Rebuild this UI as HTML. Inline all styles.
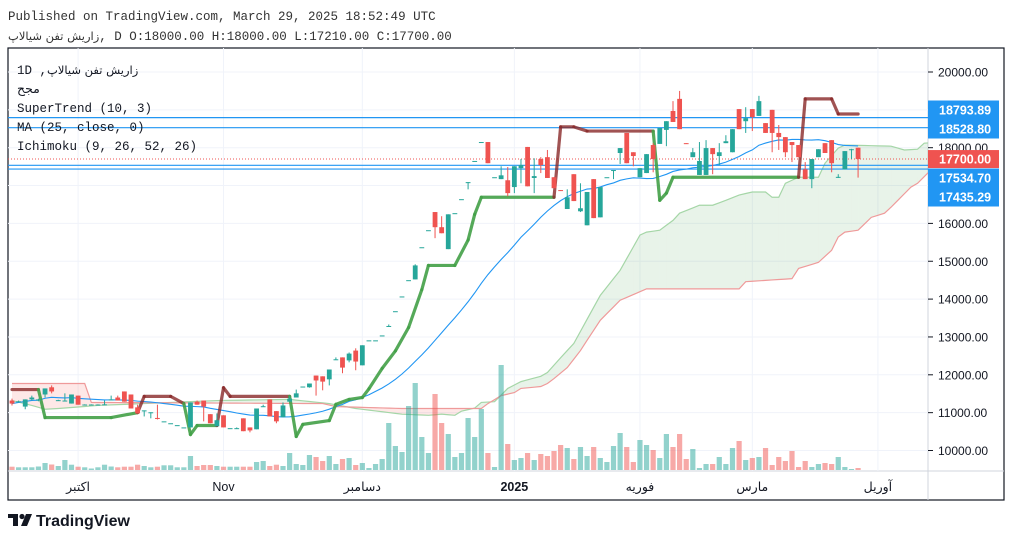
<!DOCTYPE html>
<html><head><meta charset="utf-8"><style>
html,body{margin:0;padding:0;background:#fff;}
body{width:1012px;height:541px;overflow:hidden;position:relative;font-family:"Liberation Sans","Noto Sans CJK SC",sans-serif;}
svg{position:absolute;left:0;top:0;}
.mono{font-family:"Liberation Mono","DejaVu Sans Mono",monospace;}
</style></head><body>
<svg id="chart" width="1012" height="541" viewBox="0 0 1012 541" xmlns="http://www.w3.org/2000/svg">
<defs><clipPath id="plotClip"><rect x="8" y="49" width="920" height="421"/></clipPath></defs>
<text x="8" y="20" class="mono" font-size="12.5" fill="#333">Published on TradingView.com, March 29, 2025 18:52:49 UTC</text>
<text x="8" y="40" class="mono" font-size="12.5" fill="#333"><tspan font-family="'DejaVu Sans',sans-serif" font-size="11.5">زاریش تفن شیالاپ</tspan>, D O:18000.00 H:18000.00 L:17210.00 C:17700.00</text>
<rect x="8" y="48" width="996" height="452" fill="none" stroke="#131722" stroke-width="1.2"/>
<line x1="928" y1="48" x2="928" y2="500" stroke="#d1d4dc"/>
<line x1="8" y1="471" x2="1004" y2="471" stroke="#d1d4dc"/>
<g id="grid"></g>
<g id="cloud" clip-path="url(#plotClip)"></g>
<g id="vol"></g>
<g id="hlines"></g>
<g id="ma" clip-path="url(#plotClip)"></g>
<g id="st" clip-path="url(#plotClip)"></g>
<g id="candles"></g>
<g id="yaxis"></g>
<g id="xaxis"></g>
<g class="mono" font-size="12.5" fill="#131722">
<text x="17" y="74">1D ,<tspan font-family="'DejaVu Sans',sans-serif" font-size="11.5">زاریش تفن شیالاپ</tspan></text>
<text x="17" y="93" font-family="'DejaVu Sans',sans-serif">مجح</text>
<text x="17" y="112">SuperTrend (10, 3)</text>
<text x="17" y="131">MA (25, close, 0)</text>
<text x="17" y="150">Ichimoku (9, 26, 52, 26)</text>
</g>
<g>
<rect x="8" y="514" width="10" height="4" fill="#131722"/>
<rect x="13" y="514" width="5" height="12" fill="#131722"/>
<circle cx="22" cy="516.5" r="2.6" fill="#131722"/>
<polygon points="26,514 32,514 27,526 21,526" fill="#131722"/>
<text x="36" y="526" font-size="16" font-weight="bold" fill="#131722">TradingView</text>
</g>
</svg>
<script>
const opens=[11320,11290,11160,11350,11320,11480,11670,11320,11310,11240,11450,11210,11210,11210,11210,11330,11400,11560,11480,11140,11050,11000,10860,10770,10720,10670,10610,10610,11290,11320,10960,10640,10930,10590,10580,10850,10610,10560,11160,11350,11040,10880,11290,11400,11690,11670,11980,11960,11880,12400,12460,12380,12640,12250,12910,12910,13040,13280,13680,14070,14500,14520,15370,15820,16300,15900,15320,16270,16640,17080,17650,18150,18150,17220,17170,17140,16960,17460,18020,17200,17700,17750,17220,16880,16380,17300,16320,15950,17170,16160,17220,17400,17860,18390,17880,17220,17330,18070,18100,18470,18970,19290,18120,17750,17280,17280,17990,17780,18120,17880,19020,18700,19020,18840,18650,19000,18390,18280,18150,18070,17430,17170,17750,18120,18200,17220,17430,17940,18000];
const highs=[11370,11320,11350,11450,11370,11640,11720,11340,11510,11480,11450,11220,11220,11220,11320,11450,11450,11560,11480,11210,11060,11010,11210,10770,10720,10670,10610,11270,11320,11320,10960,10980,10930,10590,10610,10850,10610,11110,11210,11350,11040,11270,11430,11610,11690,11770,11980,11960,12140,12460,12460,12590,12700,12780,12910,12910,13040,13330,13680,14070,14500,14920,15370,15820,16300,16190,16240,16270,16640,17090,17650,18150,18150,17220,17510,17490,17510,17700,18020,17720,17750,17940,17220,16880,16900,17300,17060,16830,17170,16960,17220,17410,17990,18390,17880,17460,17830,18120,18520,18700,19230,19500,18120,17990,18150,18200,17990,18120,18330,18490,19020,19070,19020,19370,18650,19000,18600,18280,18150,18070,17620,17700,17960,18120,18200,17300,17910,17970,18000];
const lows=[11190,11270,11090,11320,11300,11400,11510,11310,11310,11240,11210,11200,11200,11200,11210,11330,11320,11290,11110,10980,10900,10850,10820,10770,10720,10670,10610,10610,11210,10770,10720,10640,10610,10590,10580,10510,10480,10560,11160,10900,10720,10880,11290,11400,11690,11660,11450,11590,11720,12400,12040,12330,12120,12250,12910,12910,13040,13280,13680,14070,14500,14520,15370,15820,15610,15740,15320,16270,16640,16900,17650,18150,17590,17220,17170,16720,16800,17060,16980,16800,17330,17200,16930,16860,16380,16590,16300,15950,16140,16160,17220,17170,17570,17590,17510,17220,17330,17350,18100,18040,18680,18490,18100,17750,17280,17280,17300,17540,18120,17880,18490,18390,18440,18840,18390,17880,17940,17750,17620,17750,17170,16930,17750,17860,17350,17200,17430,17700,17210];
const closes=[11240,11300,11350,11400,11350,11640,11560,11330,11320,11480,11210,11215,11215,11215,11220,11350,11320,11290,11110,10980,11060,11010,10850,10770,10720,10670,10610,11270,11210,11160,10720,10800,10610,10590,10590,10510,10530,11110,11170,10900,10770,11190,11370,11510,11690,11770,11850,11820,12140,12410,12190,12560,12350,12780,12910,12910,13040,13290,13680,14070,14500,14890,15370,15820,15900,15740,16240,16270,16640,17090,17650,18150,17590,17220,17270,16800,17510,17540,16980,17250,17540,17200,16930,16870,16690,16590,16400,16830,16140,16960,17220,17410,17990,17590,17780,17460,17830,17700,18520,18700,18680,18490,18100,17880,17650,17990,17830,17880,18170,18490,18490,18780,18810,19230,18390,18390,18280,17880,18070,17750,17170,17700,17960,17860,17590,17230,17910,17960,17700];
const volumes=[3.3,2.7,2.7,2.7,3.5,7,5.5,4,10,5.3,3.3,2.7,1.5,2.7,5.3,3.5,2.7,3.3,3.3,5.3,4,2.7,3.3,4.7,4.7,2.7,2.7,14,4,5,5,4,3.3,3.3,3.3,3.3,3.3,8,9,4,5.3,4,17,6,5,15,13,9,14,6,11,12,5,7,2,6,11,47,24,18,64,87,33,17,76,47,36,13,17,52,33,61,17,3,105,26,10,12,17,10,16,14,19,25,22,11,23,14,23,12,8,24,37,23,8,30,25,20,12,36,23,36,11,21,2,6,6,13,6,22,29,10,12,13,22,5,13,9,19,3,9,3,6,7,6,13,3,1,2];
// SuperTrend breakpoints
const stIdx=[0,4,5,15,19,20,24,26,27,28,31,32,33,42,43,44,48,49,51,53,54,56,58,60,62,63,67,69,70,71,82,83,85,87,97,98,99,100,119,120,124,125,128];
const stVal=[11610,11610,10870,10870,11000,11430,11430,11240,10420,10660,10660,11660,11430,11430,10370,10690,10790,11220,11350,11400,11630,12170,12630,13250,14250,14890,14890,15560,16240,16690,16690,18550,18550,18440,18440,16610,16800,17220,17220,19290,19290,18890,18890];
const stDir=[-1,-1,1,1,1,-1,-1,-1,1,1,1,-1,-1,-1,1,1,1,1,1,1,1,1,1,1,1,1,1,1,1,1,1,-1,-1,-1,-1,1,1,1,1,-1,-1,-1,-1];
// Ichimoku leading spans (breakpoints)
const spanAIdx=[0,3,5,7,13,31,42,48,52,59,63,65,67,68,70,71,73,75,77,80,81,83,85,89,92,95,96,98,100,101,104,106,108,110,112,114,115,116,117,119,122,123,125,126,133,135,137,138,141];
const spanAVal=[11320,11190,11090,11110,11190,11320,11350,11240,11110,10960,10930,10960,10930,11040,11120,11270,11290,11640,11820,11960,12060,12450,12830,14100,14760,15690,15770,15820,16080,16270,16480,16480,16610,16750,16830,16830,16690,16690,17060,17220,17220,17590,17990,18070,18040,17940,17960,18120,18150];
const spanBIdx=[0,11,12,47,49,59,71,72,74,76,77,80,81,82,84,86,87,89,92,96,110,111,118,119,122,124,125,126,128,130,132,133,136,137,139,141];
const spanBVal=[11770,11770,11270,11240,11160,11110,11110,11240,11450,11530,11640,11690,11770,11900,12190,12640,12910,13440,13970,14270,14270,14460,14540,14810,14970,15290,15640,15770,15820,16160,16270,16430,16960,17060,17410,17600];
const levels=[18793.89,18528.80,17534.70,17435.29];
const levelLabelY=[110,129,178,197];
const lastPrice=17700;
const yTicks=[20000,18000,16000,15000,14000,13000,12000,11000,10000];
const gridPrices=[20000,19000,18000,17000,16000,15000,14000,13000,12000,11000,10000];
const timeLabels=["اکتبر","Nov","دسامبر","2025","فوریه","مارس","آوریل"];
const timeIdx=[10,32,53,76,95,112,131];

const NS="http://www.w3.org/2000/svg";
const X0=12,DX=6.61;
function xOf(i){return X0+i*DX;}
function yOf(p){return 72+(20000-p)*0.03785;}
function vy(v){return 470-v;}
function mk(tag,attrs,parent){const e=document.createElementNS(NS,tag);for(const k in attrs)e.setAttribute(k,attrs[k]);parent.appendChild(e);return e;}
function interp(idx,val,i){if(i<=idx[0])return val[0];for(let k=1;k<idx.length;k++){if(i<=idx[k]){const t=(i-idx[k-1])/(idx[k]-idx[k-1]);return val[k-1]+t*(val[k]-val[k-1]);}}return val[val.length-1];}
const UP="#26a69a",DN="#ef5350";

// grid
const grid=document.getElementById('grid');
gridPrices.forEach(p=>{const l=mk('line',{x1:8,x2:928,y1:yOf(p),y2:yOf(p),stroke:'#f0f3fa'},grid);

});
timeIdx.forEach(i=>{const l=mk('line',{x1:xOf(i),x2:xOf(i),y1:48,y2:471,stroke:'#f0f3fa'},grid);

});

// cloud
const cloud=document.getElementById('cloud');
const cA=[],cB=[];
for(let i=0;i<=141;i++){cA.push(interp(spanAIdx,spanAVal,i));cB.push(interp(spanBIdx,spanBVal,i));}
for(let i=0;i<141;i++){
 const a0=cA[i],a1=cA[i+1],b0=cB[i],b1=cB[i+1];
 const col=(a0+a1)>=(b0+b1)?'rgba(67,160,71,0.12)':'rgba(244,67,54,0.12)';
 const q=mk('polygon',{points:`${xOf(i)},${yOf(a0)} ${xOf(i+1)},${yOf(a1)} ${xOf(i+1)},${yOf(b1)} ${xOf(i)},${yOf(b0)}`,fill:col},cloud);
 
 
}
const pa=mk('polyline',{points:cA.map((v,i)=>xOf(i)+','+yOf(v)).join(' '),fill:'none',stroke:'#a5d6a7','stroke-width':1.2},cloud);


const pb=mk('polyline',{points:cB.map((v,i)=>xOf(i)+','+yOf(v)).join(' '),fill:'none',stroke:'#ef9a9a','stroke-width':1.2},cloud);



// volume
const vol=document.getElementById('vol');
volumes.forEach((v,i)=>{const up=closes[i]>=opens[i];
 const r=mk('rect',{x:xOf(i)-2.6,y:vy(v),width:5.2,height:v,fill:up?'rgba(38,166,154,0.5)':'rgba(239,83,80,0.5)'},vol);
 
 });

// horizontal levels
const hl=document.getElementById('hlines');
levels.forEach(p=>{const l=mk('line',{x1:8,x2:935,y1:yOf(p),y2:yOf(p),stroke:'#2196f3','stroke-width':1.2},hl);

});
const pl=mk('line',{x1:8,x2:928,y1:yOf(lastPrice),y2:yOf(lastPrice),stroke:'#ef5350','stroke-width':1,'stroke-dasharray':'1,2'},hl);



// MA 25
const maG=document.getElementById('ma');
const maPts=[];
for(let i=0;i<closes.length;i++){let s=0,n=0;for(let k=Math.max(0,i-24);k<=i;k++){s+=closes[k];n++;}maPts.push(xOf(i)+','+yOf(s/n));}
const maL=mk('polyline',{points:maPts.join(' '),fill:'none',stroke:'#2196f3','stroke-width':1.1},maG);



// SuperTrend
const stG=document.getElementById('st');
for(let k=1;k<stIdx.length;k++){
 const col=stDir[k]>0?'rgba(67,160,71,0.9)':'rgba(136,40,40,0.8)';
 const s=mk('line',{x1:xOf(stIdx[k-1]),y1:yOf(stVal[k-1]),x2:xOf(stIdx[k]),y2:yOf(stVal[k]),stroke:col,'stroke-width':3.2,'stroke-linecap':'round'},stG);
 
 
}

// candles
const cg=document.getElementById('candles');
opens.forEach((o,i)=>{const c=closes[i],up=c>=o,col=up?UP:DN,x=xOf(i);
 const g=mk('g',{},cg);
 
 
 mk('line',{x1:x,x2:x,y1:yOf(highs[i]),y2:yOf(lows[i]),stroke:col,'stroke-width':1},g);
 const t=yOf(Math.max(o,c)),b=yOf(Math.min(o,c));
 mk('rect',{x:x-2.4,y:t,width:4.8,height:Math.max(1,b-t),fill:col},g);
});

// y axis
const ya=document.getElementById('yaxis');
yTicks.forEach(p=>{const y=yOf(p);
 mk('line',{x1:928,x2:933,y1:y,y2:y,stroke:'#131722'},ya);
 const t=mk('text',{x:938,y:y+4.5,'font-size':12,fill:'#131722'},ya);t.textContent=p.toFixed(2);
 
 });
levels.forEach((p,k)=>{const y=levelLabelY[k];
 const r=mk('rect',{x:928,y:y-9.5,width:71,height:19,fill:'#2196f3'},ya);
 
 
 const t=mk('text',{x:939,y:y+4.5,'font-size':12.5,'font-weight':'bold',fill:'#fff'},ya);t.textContent=p.toFixed(2);
 
 });
(function(){const y=yOf(lastPrice);
 const r=mk('rect',{x:928,y:y-9,width:71,height:18,fill:'#ef5350'},ya);
 
 
 const t=mk('text',{x:939,y:y+4.5,'font-size':12.5,'font-weight':'bold',fill:'#fff'},ya);t.textContent=lastPrice.toFixed(2);
 
 })();

// x axis
const xa=document.getElementById('xaxis');
timeLabels.forEach((s,k)=>{const x=xOf(timeIdx[k]);
 const t=mk('text',{x:x,y:491,'font-size':12.5,'text-anchor':'middle',fill:'#131722','font-family':"'Liberation Sans','DejaVu Sans',sans-serif"},xa);
 if(s==='2025')t.setAttribute('font-weight','bold');
 t.textContent=s;
 
 });
</script>
</body></html>
